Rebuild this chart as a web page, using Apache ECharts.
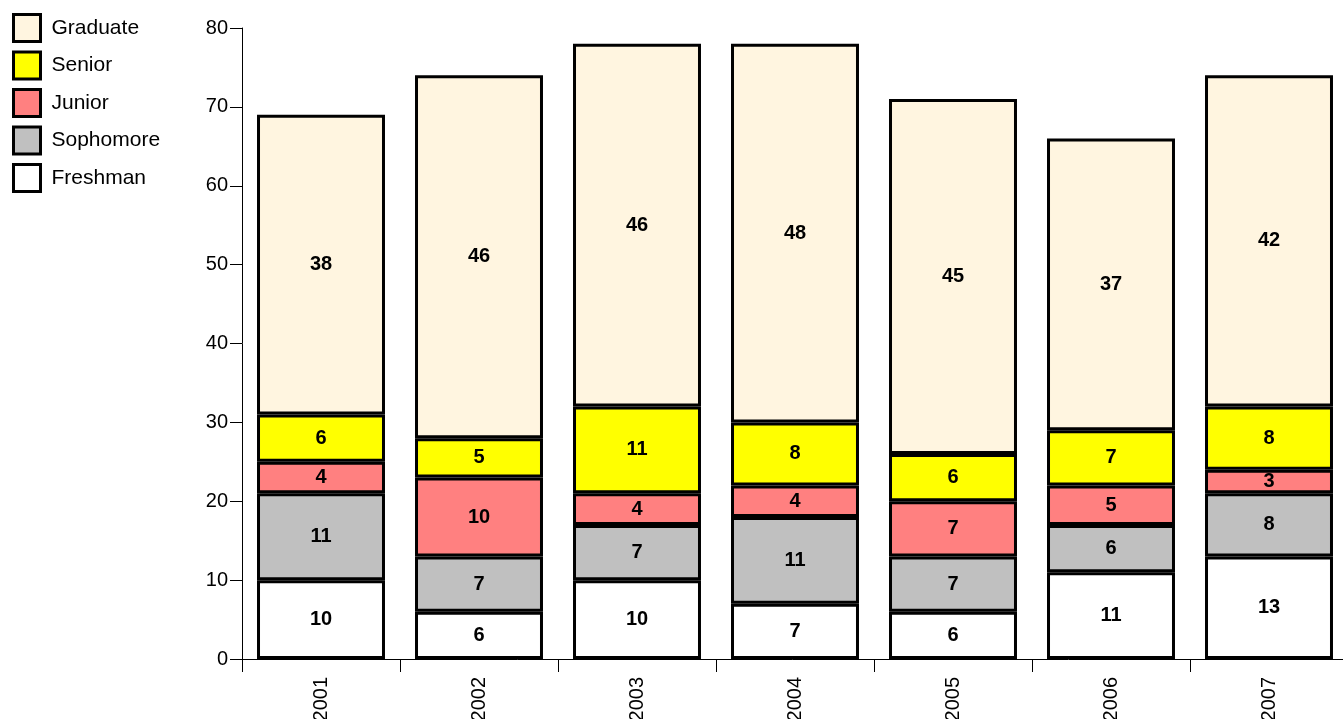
<!DOCTYPE html>
<html><head><meta charset="utf-8">
<script src="https://cdn.jsdelivr.net/npm/echarts@6/dist/echarts.min.js"></script>
<style>html,body{margin:0;padding:0;background:#fff}#c{width:1343px;height:719px}</style>
</head><body><div id="c"></div>
<script>
const years = ['2001','2002','2003','2004','2005','2006','2007'];
const freshman = [10,6,10,7,6,11,13];
const sophomore = [11,7,7,11,7,6,8];
const junior = [4,10,4,4,7,5,3];
const senior = [6,5,11,8,6,7,8];
const graduate = [38,46,46,48,45,37,42];
const yTicks = [0,10,20,30,40,50,60,70,80];

const font = 'Arial, "Liberation Sans", sans-serif';
function mk(name, data, color){
  return {name, type:'bar', stack:'all', data, barCategoryGap:'19%',
    itemStyle:{color, borderColor:'#000', borderWidth:3},
    label:{show:true, position:'inside', color:'#000', fontWeight:'bold', fontSize:20, fontFamily:font}};
}
const chart = echarts.init(document.getElementById('c'));
chart.setOption({
  animation:false,
  backgroundColor:'#fff',
  grid:{left:242, width:1106, top:28, bottom:60, outerBoundsMode:'none', containLabel:false},
  legend:{orient:'vertical', left:12, top:13, padding:0, itemWidth:27, itemHeight:27, itemGap:7.5,
    icon:'rect',
    data:['Graduate','Senior','Junior','Sophomore','Freshman'],
    itemStyle:{borderColor:'#000', borderWidth:3},
    textStyle:{fontSize:21, fontFamily:font, color:'#000', padding:[0,0,0,6]}},
  xAxis:{type:'category', data:years,
    axisLine:{lineStyle:{color:'#000', width:1}},
    axisTick:{show:true, length:13, lineStyle:{color:'#000', width:1}},
    axisLabel:{rotate:90, fontSize:20, fontFamily:font, color:'#000', margin:18}},
  yAxis:{type:'value', min:yTicks[0], max:yTicks[yTicks.length-1], interval:10,
    splitLine:{show:false},
    axisLine:{show:true, lineStyle:{color:'#000', width:1}},
    axisTick:{show:true, length:12, lineStyle:{color:'#000'}},
    axisLabel:{fontSize:20, fontFamily:font, color:'#000', margin:14}},
  series:[
    mk('Freshman', freshman, '#FFFFFF'),
    mk('Sophomore', sophomore, '#C0C0C0'),
    mk('Junior', junior, '#FF8080'),
    mk('Senior', senior, '#FFFF00'),
    mk('Graduate', graduate, '#FFF5E0')
  ]
});
</script></body></html>
